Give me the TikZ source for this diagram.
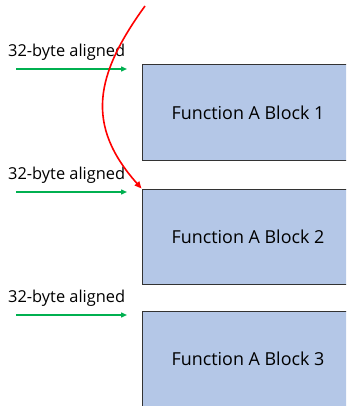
\documentclass[tikz,border=0pt]{standalone}
\usepackage{fontspec}
\setmainfont{Open Sans}
\usetikzlibrary{
  positioning
  , arrows.meta
}
\definecolor{blockfill}{HTML}{B4C7E7}
\definecolor{aligngreen}{HTML}{00B050}

\begin{document}
\begin{tikzpicture}[x=1pt,y=-1pt,
    block/.style={rectangle, draw=black!80, line width=1pt, fill=blockfill,
      minimum width=212pt, minimum height=95pt, font=\fontsize{17.9}{19}\selectfont},
    alignlabel/.style={anchor=west, inner sep=0pt, font=\fontsize{16.4}{17}\selectfont},
    alignarrow/.style={draw=aligngreen, line width=1.4pt, -{Triangle[length=6pt,width=5pt]}}
  ]
  \clip (0,0) rectangle (346,406);
  \fill[white] (0,0) rectangle (346,406);

  % the three blocks
  \node [block] (B1) at (248,112.5) {Function A Block 1};
  \node [block] (B2) at (248,236.5) {Function A Block 2};
  \node [block] (B3) at (248,358.5) {Function A Block 3};

  % alignment markers
  \foreach \i/\y in {1/69, 2/192, 3/315}{
    \coordinate (G\i s) at (16,\y);
    \coordinate (G\i e) at (127,\y);
    \draw [alignarrow] (G\i s) -- (G\i e);
    \node [alignlabel] (L\i) at (8,\y-17) {32-byte aligned};
  }

  % jump into block 2
  \coordinate (J0) at (145,6);
  \draw [red, line width=1.6pt, -{Triangle[length=7pt,width=6pt]}]
    (J0) .. controls (95,75) and (85,125) .. (B2.north west);
\end{tikzpicture}
\end{document}
